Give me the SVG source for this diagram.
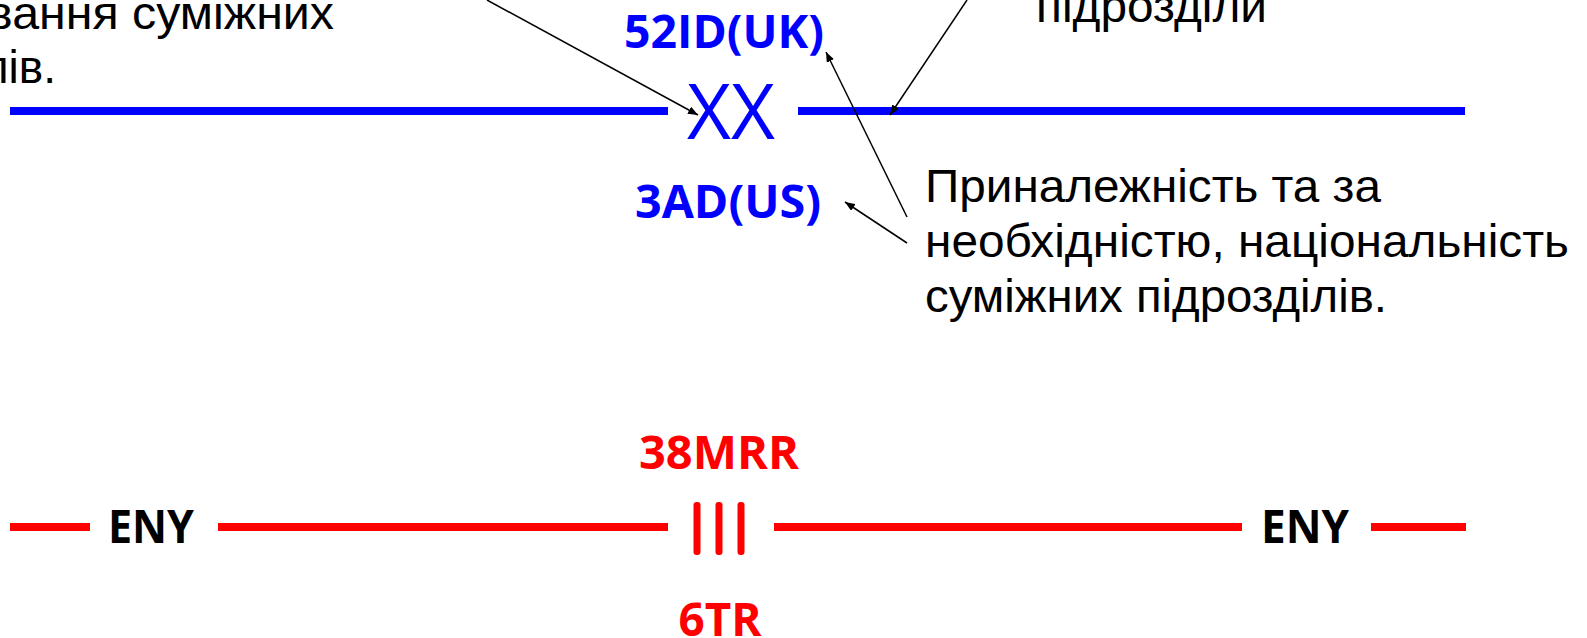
<svg xmlns="http://www.w3.org/2000/svg" width="1587" height="638" viewBox="0 0 1587 638">
<defs>
<style>
.note{font-family:"Liberation Sans",Arial,sans-serif;font-size:46px;fill:#000}
.lbl{font-family:"Open Sans",sans-serif;font-weight:bold;font-size:46px}
.blue{fill:#0000ff}
.red{fill:#ff0000}
.blk{fill:#000}
.bl{stroke:#0000ff;stroke-width:8;fill:none}
.rl{stroke:#ff0000;stroke-width:8;fill:none}
.ar{stroke:#000;stroke-width:1.5;fill:none;marker-end:url(#ah)}
</style>
<marker id="ah" viewBox="0 0 10 8" refX="10" refY="4" markerWidth="10" markerHeight="8" markerUnits="userSpaceOnUse" orient="auto">
<path d="M0,0 L10,4 L0,8 z" fill="#000"/>
</marker>
</defs>
<g id="note-left">
<text class="note" x="-13" y="29" textLength="347" lengthAdjust="spacingAndGlyphs">вання суміжних</text>
<text class="note" x="56" y="83" text-anchor="end">лів.</text>
</g>
<g id="note-top-right">
<text class="note" x="1036" y="22" textLength="231" lengthAdjust="spacingAndGlyphs">підрозділи</text>
</g>
<g id="note-right">
<text class="note" x="925" y="202" textLength="456" lengthAdjust="spacingAndGlyphs">Приналежність та за</text>
<text class="note" x="925" y="257" textLength="644" lengthAdjust="spacingAndGlyphs">необхідністю, національність</text>
<text class="note" x="925" y="312" textLength="462" lengthAdjust="spacingAndGlyphs">суміжних підрозділів.</text>
</g>
<g id="friendly-boundary">
<line class="bl" x1="10" y1="111" x2="668" y2="111"/>
<line class="bl" x1="798" y1="111" x2="1465" y2="111"/>
<text x="731" y="139" text-anchor="middle" font-family="Open Sans, sans-serif" font-size="76" fill="#0000ff" textLength="88" lengthAdjust="spacingAndGlyphs">XX</text>
<text class="lbl blue" x="724" y="48" text-anchor="middle" textLength="200" lengthAdjust="spacingAndGlyphs">52ID(UK)</text>
<text class="lbl blue" x="728" y="218" text-anchor="middle" textLength="186" lengthAdjust="spacingAndGlyphs">3AD(US)</text>
</g>
<g id="enemy-boundary">
<line class="rl" x1="10" y1="527" x2="90" y2="527"/>
<line class="rl" x1="218" y1="527" x2="668" y2="527"/>
<line class="rl" x1="774" y1="527" x2="1242" y2="527"/>
<line class="rl" x1="1371" y1="527" x2="1466" y2="527"/>
<rect x="693.5" y="502" width="7" height="53" rx="3" class="red"/>
<rect x="715.5" y="502" width="7" height="53" rx="3" class="red"/>
<rect x="737.5" y="502" width="7" height="53" rx="3" class="red"/>
<text class="lbl red" x="719" y="469" text-anchor="middle" textLength="160" lengthAdjust="spacingAndGlyphs">38MRR</text>
<text class="lbl red" x="720" y="636" text-anchor="middle" textLength="83" lengthAdjust="spacingAndGlyphs">6TR</text>
<text class="lbl blk" x="151" y="543" text-anchor="middle" textLength="86" lengthAdjust="spacingAndGlyphs">ENY</text>
<text class="lbl blk" x="1305" y="543" text-anchor="middle" textLength="88" lengthAdjust="spacingAndGlyphs">ENY</text>
</g>
<g id="connectors">
<line class="ar" x1="487" y1="0" x2="698" y2="115"/>
<line class="ar" x1="967" y1="0" x2="890" y2="115"/>
<line class="ar" x1="907" y1="217" x2="826" y2="52"/>
<line class="ar" x1="907" y1="243" x2="845" y2="202"/>
</g>
</svg>
